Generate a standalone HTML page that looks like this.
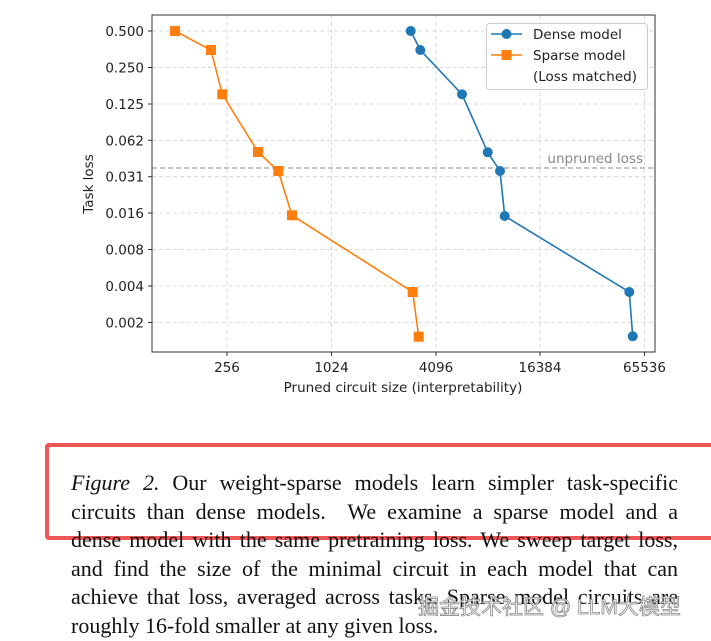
<!DOCTYPE html>
<html><head><meta charset="utf-8"><style>
body{margin:0;background:#fff;width:711px;height:639px;overflow:hidden;position:relative}
svg{position:absolute;left:0;top:0}
.cap{position:absolute;left:71px;top:469px;width:607px;font-family:"Liberation Serif",serif;font-size:22px;line-height:28.6px;color:#111}
.cap div{text-align:justify;text-align-last:justify;white-space:nowrap}
.cap div.l{text-align-last:left}
.box{position:absolute;left:45px;top:443px;width:680px;height:89px;border:4px solid #ef5656;border-right:none;border-radius:4px}
.wm{position:absolute;left:418px;top:591px;font-family:"Liberation Sans","Noto Sans CJK SC",sans-serif;font-size:21px;color:rgba(255,255,255,0.85);-webkit-text-stroke:0.8px #888}
</style></head><body>
<svg width="711" height="440" font-family="DejaVu Sans, sans-serif" font-size="13.5" fill="#222">
<g stroke="#d0d0d0" stroke-dasharray="4,3" stroke-width="0.8">
<line x1="227" y1="15" x2="227" y2="352"/><line x1="331.5" y1="15" x2="331.5" y2="352"/><line x1="436" y1="15" x2="436" y2="352"/><line x1="540" y1="15" x2="540" y2="352"/><line x1="644.5" y1="15" x2="644.5" y2="352"/>
<line x1="152" y1="31" x2="655" y2="31"/><line x1="152" y1="67.5" x2="655" y2="67.5"/><line x1="152" y1="104" x2="655" y2="104"/><line x1="152" y1="140.3" x2="655" y2="140.3"/><line x1="152" y1="176.7" x2="655" y2="176.7"/><line x1="152" y1="213" x2="655" y2="213"/><line x1="152" y1="249.5" x2="655" y2="249.5"/><line x1="152" y1="286" x2="655" y2="286"/><line x1="152" y1="322.5" x2="655" y2="322.5"/>
</g>
<line x1="152" y1="168" x2="655" y2="168" stroke="#888" stroke-dasharray="5,3" stroke-width="1"/>
<text x="643" y="163" text-anchor="end" fill="#888">unpruned loss</text>
<polyline fill="none" stroke="#ff7f0e" stroke-width="1.6" points="175,31 211,50 222.3,94.3 258,152 278.3,171 292,215.3 412.7,292 418.7,336.7"/>
<g fill="#ff7f0e"><rect x="170" y="26" width="10" height="10"/><rect x="206" y="45" width="10" height="10"/><rect x="217.3" y="89.3" width="10" height="10"/><rect x="253" y="147" width="10" height="10"/><rect x="273.3" y="166" width="10" height="10"/><rect x="287" y="210.3" width="10" height="10"/><rect x="407.7" y="287" width="10" height="10"/><rect x="413.7" y="331.7" width="10" height="10"/></g>
<polyline fill="none" stroke="#1f77b4" stroke-width="1.6" points="410.7,31 420.3,50 462,94.3 487.7,152.3 500,171 504.7,216 629.3,292 632.7,336.3"/>
<g fill="#1f77b4"><circle cx="410.7" cy="31" r="5"/><circle cx="420.3" cy="50" r="5"/><circle cx="462" cy="94.3" r="5"/><circle cx="487.7" cy="152.3" r="5"/><circle cx="500" cy="171" r="5"/><circle cx="504.7" cy="216" r="5"/><circle cx="629.3" cy="292" r="5"/><circle cx="632.7" cy="336.3" r="5"/></g>
<rect x="152" y="15" width="503" height="337" fill="none" stroke="#333" stroke-width="1"/>
<g stroke="#333"><line x1="227" y1="352" x2="227" y2="356"/><line x1="331.5" y1="352" x2="331.5" y2="356"/><line x1="436" y1="352" x2="436" y2="356"/><line x1="540" y1="352" x2="540" y2="356"/><line x1="644.5" y1="352" x2="644.5" y2="356"/>
<line x1="148" y1="31" x2="152" y2="31"/><line x1="148" y1="67.5" x2="152" y2="67.5"/><line x1="148" y1="104" x2="152" y2="104"/><line x1="148" y1="140.3" x2="152" y2="140.3"/><line x1="148" y1="176.7" x2="152" y2="176.7"/><line x1="148" y1="213" x2="152" y2="213"/><line x1="148" y1="249.5" x2="152" y2="249.5"/><line x1="148" y1="286" x2="152" y2="286"/><line x1="148" y1="322.5" x2="152" y2="322.5"/></g>
<g text-anchor="middle"><text x="227" y="372">256</text><text x="331.5" y="372">1024</text><text x="436" y="372">4096</text><text x="540" y="372">16384</text><text x="644.5" y="372">65536</text>
<text x="403" y="392">Pruned circuit size (interpretability)</text></g>
<g text-anchor="end"><text x="144" y="36">0.500</text><text x="144" y="72.5">0.250</text><text x="144" y="109">0.125</text><text x="144" y="145.3">0.062</text><text x="144" y="181.7">0.031</text><text x="144" y="218">0.016</text><text x="144" y="254.5">0.008</text><text x="144" y="291">0.004</text><text x="144" y="327.5">0.002</text></g>
<text transform="translate(93,184) rotate(-90)" text-anchor="middle">Task loss</text>
<rect x="486.5" y="23.5" width="161" height="66" rx="3" fill="#fff" fill-opacity="0.85" stroke="#ccc"/>
<line x1="491" y1="34" x2="522" y2="34" stroke="#1f77b4" stroke-width="1.6"/><circle cx="506.5" cy="34" r="5" fill="#1f77b4"/>
<line x1="491" y1="55" x2="522" y2="55" stroke="#ff7f0e" stroke-width="1.6"/><rect x="501.5" y="50" width="10" height="10" fill="#ff7f0e"/>
<text x="533" y="39">Dense model</text><text x="533" y="60">Sparse model</text><text x="533" y="81">(Loss matched)</text>
</svg>
<div class="box"></div>
<div class="cap">
<div><i>Figure 2.</i> Our weight-sparse models learn simpler task-specific</div>
<div>circuits than dense models.&nbsp; We examine a sparse model and a</div>
<div>dense model with the same pretraining loss. We sweep target loss,</div>
<div>and find the size of the minimal circuit in each model that can</div>
<div>achieve that loss, averaged across tasks. Sparse model circuits are</div>
<div class="l">roughly 16-fold smaller at any given loss.</div>
</div>
<div class="wm">掘金技术社区 @ LLM大模型</div>
</body></html>
